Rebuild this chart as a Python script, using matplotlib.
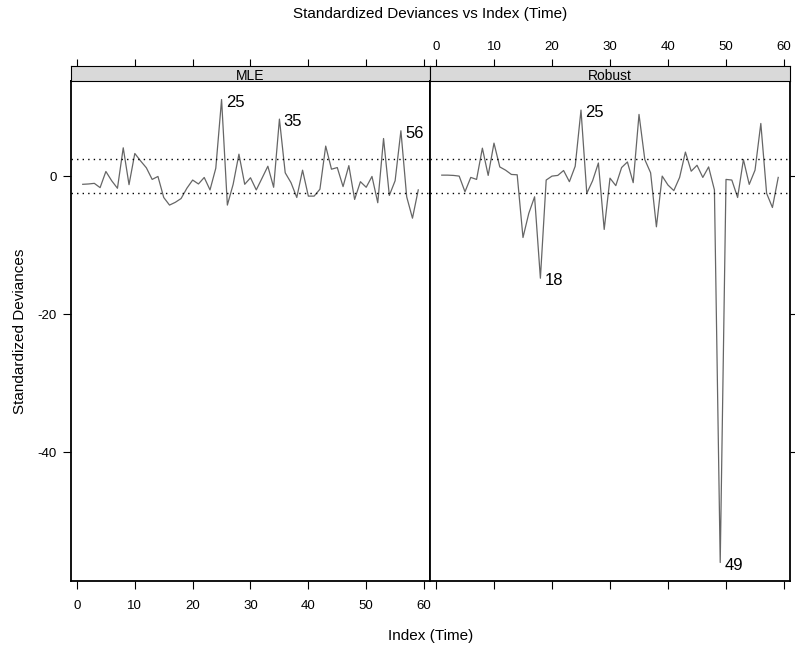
import numpy as np
import matplotlib
matplotlib.use('Agg')
import matplotlib.pyplot as plt

plt.rcParams['font.family'] = ['Liberation Sans', 'DejaVu Sans']
plt.rcParams['axes.unicode_minus'] = False

# standardized deviances (index 1..59)
index = np.arange(1, 60)
mle = [-1.19, -1.14, -1.05, -1.67, 0.67, -0.67, -1.76, 4.1, -1.24, 3.28,
       2.2, 1.2, -0.48, -0.05, -3.1, -4.2, -3.8, -3.25, -1.76, -0.57,
       -1.14, -0.2, -2.0, 1.14, 11.1, -4.2, -1.19, 3.18, -1.19, -0.24,
       -2.0, -0.29, 1.43, -1.62, 8.26, 0.48, -0.95, -3.1, 0.86, -2.9,
       -2.9, -1.9, 4.35, 1.0, 1.24, -1.52, 1.52, -3.38, -0.81, -1.62,
       -0.05, -3.86, 5.45, -2.8, -0.67, 6.57, -3.0, -6.1, -2.0]
robust = [0.14, 0.14, 0.1, 0.0, -2.27, -0.19, -0.48, 4.05, 0.1, 4.78,
          1.33, 0.86, 0.24, 0.19, -8.9, -5.4, -3.0, -14.8, -0.57, 0.0,
          0.1, 0.81, -0.81, 1.43, 9.57, -2.5, -0.67, 1.9, -7.73, -0.3,
          -1.38, 1.24, 2.05, -0.95, 8.94, 2.4, 0.48, -7.35, 0.0, -1.3,
          -2.1, -0.19, 3.48, 0.71, 1.57, -0.19, 1.33, -2.0, -56.0, -0.48,
          -0.57, -3.1, 2.4, -1.2, 0.86, 7.63, -2.5, -4.55, -0.19]
panels = ['MLE', 'Robust']
labelled = {'MLE': [25, 35, 56], 'Robust': [18, 25, 49]}
cutoff = 2.5
xticks = [0, 10, 20, 30, 40, 50, 60]
yticks = [0, -20, -40]

W, H = 795, 652
fig = plt.figure(figsize=(W / 100, H / 100), dpi=100)

def px(x0, y0, x1, y1):
    return [x0 / W, 1 - y1 / H, (x1 - x0) / W, (y1 - y0) / H]

# lattice-style limits
xr = index.max() - index.min()
xlim = (index.min() - 0.035 * xr, index.max() + 0.035 * xr)
alld = np.concatenate([mle, robust])
yr = alld.max() - alld.min()
ylim = (alld.min() - 0.04 * yr, alld.max() + 0.04 * yr)

data = {'MLE': np.array(mle), 'Robust': np.array(robust)}
bounds = [(71, 430), (430, 790)]

for k, name in enumerate(panels):
    x0, x1 = bounds[k]
    ax = fig.add_axes(px(x0, 81, x1, 581))
    y = data[name]
    ax.plot(index, y, color='#666666', lw=0.9)
    ax.axhline(cutoff, color='black', ls=(0, (1, 3)), lw=1)
    ax.axhline(-cutoff, color='black', ls=(0, (1, 3)), lw=1)
    for i in labelled[name]:
        ax.annotate(str(i), (i, y[i - 1]), xytext=(3, -2), textcoords='offset points',
                    ha='left', va='center', fontsize=12)
    ax.set_xlim(xlim)
    ax.set_ylim(ylim)
    ax.set_xticks(xticks)
    ax.set_yticks(yticks)
    for s in ax.spines.values():
        s.set_linewidth(1.3)
    ax.tick_params(axis='x', direction='out', length=6, width=0.8, labelsize=9.5, pad=8)
    ax.tick_params(axis='y', direction='out', length=6, width=0.8, labelsize=9.5, pad=4)
    if k == 0:
        ax.tick_params(left=True, labelleft=True, right=False, labelright=False,
                       bottom=True, labelbottom=True)
    else:
        ax.tick_params(left=False, labelleft=False, right=True, labelright=False,
                       bottom=True, labelbottom=False)

    # strip with top axis
    sx = fig.add_axes(px(x0, 66, x1, 81))
    sx.set_facecolor('#d9d9d9')
    sx.set_xlim(xlim)
    sx.set_ylim(0, 1)
    sx.set_yticks([])
    sx.set_xticks(xticks)
    sx.xaxis.set_ticks_position('top')
    sx.tick_params(direction='out', length=5, width=0.8, labelsize=9.5, pad=4.5,
                   bottom=False, labelbottom=False, top=True, labeltop=(k == 1))
    for s in sx.spines.values():
        s.set_linewidth(0.8)
    sx.text(0.5, 0.36, name, transform=sx.transAxes, ha='center', va='center',
            fontsize=10, clip_on=True)

fig.text(430.5 / W, 1 - 14 / H, 'Standardized Deviances vs Index (Time)',
         ha='center', va='center', fontsize=11)
fig.text(430.5 / W, 1 - 636 / H, 'Index (Time)', ha='center', va='center', fontsize=11)
fig.text(20 / W, 1 - 331 / H, 'Standardized Deviances', ha='center', va='center',
         rotation=90, fontsize=11)

fig.savefig('out.png', dpi=100)
